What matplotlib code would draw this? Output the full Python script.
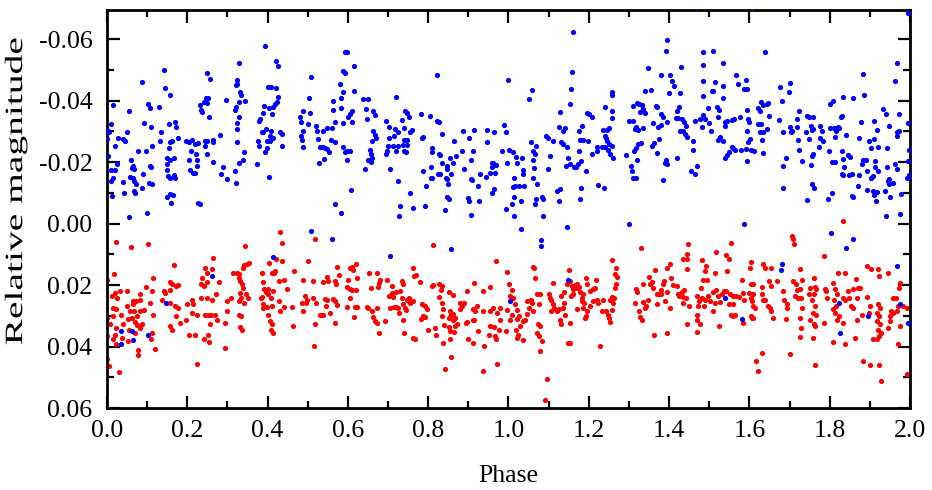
import numpy as np
import matplotlib
matplotlib.use("Agg")
import matplotlib.pyplot as plt
from matplotlib.ticker import MultipleLocator, FormatStrFormatter
from matplotlib.patheffects import AbstractPathEffect
from matplotlib.transforms import Affine2D

# (phase, relative magnitude)
blue = [
    # 0.0 - 0.23
    (0.143,-0.050),(0.086,-0.046),(0.145,-0.044),(0.158,-0.042),(0.014,-0.0387),(0.103,-0.039),(0.106,-0.0377),
    (0.129,-0.0378),(0.055,-0.0366),(0.009,-0.0324),(0.0,-0.0304),(0.005,-0.0297),(0.001,-0.0276),(0.091,-0.0326),
    (0.110,-0.0313),(0.135,-0.0299),(0.049,-0.0299),(0.028,-0.0278),(0.039,-0.0276),(0.045,-0.027),(0.019,-0.0253),
    (0.154,-0.0324),(0.170,-0.033),(0.173,-0.0315),(0.176,-0.028),(0.133,-0.027),(0.158,-0.0267),(0.163,-0.027),
    (0.113,-0.0253),(0.154,-0.0246),(0.076,-0.0237),(0.097,-0.0237),(0.002,-0.022),(0.024,-0.0193),(0.019,-0.0175),
    (0.011,-0.0174),(0.014,-0.015),(0.009,-0.0139),(0.060,-0.0208),(0.066,-0.0188),(0.063,-0.018),(0.068,-0.0177),
    (0.107,-0.0188),(0.109,-0.0183),(0.090,-0.0163),(0.057,-0.0152),(0.064,-0.0148),(0.067,-0.0139),(0.039,-0.0134),
    (0.071,-0.0128),(0.067,-0.0107),(0.070,-0.0101),(0.088,-0.0115),(0.104,-0.0132),(0.111,-0.0128),(0.149,-0.0213),
    (0.158,-0.0207),(0.166,-0.0215),(0.149,-0.0193),(0.149,-0.0175),(0.153,-0.0155),(0.157,-0.015),(0.167,-0.0159),
    (0.169,-0.0148),(0.150,-0.0087),(0.158,-0.0096),(0.165,-0.0093),(0.159,-0.0068),(0.043,-0.0098),(0.013,-0.0089),
    (0.100,-0.0036),(0.056,-0.002),(0.226,-0.0066),(0.197,-0.027),(0.205,-0.0267),(0.211,-0.0272),(0.219,-0.0259),
    (0.227,-0.0261),(0.210,-0.0237),(0.222,-0.0226),(0.205,-0.0207),(0.223,-0.0208),(0.225,-0.0188),(0.207,-0.0175),
    (0.213,-0.0166),(0.220,-0.0164),
    (0.147,0.0258),(0.036,0.0348),(0.063,0.035),(0.034,0.0393),(0.066,0.0379),(0.103,0.0364),
    # 0.23 - 0.47
    (0.394,-0.0579),(0.329,-0.0522),(0.248,-0.049),(0.256,-0.0471),(0.421,-0.0528),(0.427,-0.0514),(0.323,-0.0467),
    (0.325,-0.0454),(0.321,-0.0451),(0.402,-0.0446),(0.408,-0.0443),(0.421,-0.044),(0.331,-0.0427),(0.335,-0.042),
    (0.330,-0.0395),(0.344,-0.04),(0.427,-0.0413),(0.424,-0.0395),(0.418,-0.0389),(0.413,-0.0378),(0.404,-0.0376),
    (0.392,-0.0384),(0.389,-0.0359),(0.381,-0.034),(0.378,-0.0335),(0.232,-0.0387),(0.233,-0.037),(0.242,-0.0395),
    (0.250,-0.0392),(0.247,-0.0408),(0.252,-0.0409),(0.255,-0.0346),(0.236,-0.0362),(0.296,-0.0402),(0.318,-0.037),
    (0.321,-0.0378),(0.330,-0.0346),(0.323,-0.0326),(0.325,-0.0308),(0.410,-0.0357),(0.396,-0.0308),(0.389,-0.0299),
    (0.385,-0.0297),(0.408,-0.03),(0.406,-0.0286),(0.431,-0.0297),(0.435,-0.0291),(0.436,-0.0251),(0.413,-0.028),
    (0.406,-0.027),(0.398,-0.027),(0.399,-0.0246),(0.394,-0.0234),(0.377,-0.027),(0.379,-0.0254),(0.243,-0.027),
    (0.248,-0.027),(0.245,-0.0253),(0.248,-0.0226),(0.263,-0.0267),(0.265,-0.0272),(0.281,-0.0289),(0.263,-0.0202),
    (0.325,-0.0267),(0.342,-0.0234),(0.338,-0.0207),(0.328,-0.0196),(0.288,-0.0183),(0.285,-0.0163),(0.298,-0.0145),
    (0.318,-0.017),(0.321,-0.0132),(0.374,-0.0193),(0.404,-0.0152),(0.232,-0.0065),
    (0.413,0.0109),(0.261,0.0171),
    # 0.48 - 0.73
    (0.593,-0.0557),(0.599,-0.0557),(0.614,-0.0513),(0.589,-0.0498),(0.594,-0.049),(0.508,-0.0478),(0.580,-0.0454),
    (0.587,-0.0427),(0.584,-0.0409),(0.615,-0.0433),(0.504,-0.0409),(0.489,-0.0365),(0.481,-0.0348),(0.482,-0.0329),
    (0.506,-0.0359),(0.564,-0.0398),(0.564,-0.037),(0.582,-0.0376),(0.638,-0.0404),(0.651,-0.0404),(0.645,-0.0373),
    (0.647,-0.034),(0.663,-0.0365),(0.667,-0.0352),(0.609,-0.0367),(0.605,-0.0357),(0.601,-0.0346),(0.589,-0.0327),
    (0.611,-0.0329),(0.501,-0.0324),(0.521,-0.0318),(0.537,-0.0302),(0.547,-0.0311),(0.560,-0.0311),(0.568,-0.0329),
    (0.524,-0.03),(0.526,-0.0275),(0.531,-0.0248),(0.487,-0.03),(0.482,-0.0286),(0.485,-0.0272),(0.489,-0.0248),
    (0.537,-0.0248),(0.543,-0.0246),(0.547,-0.0242),(0.557,-0.0272),(0.568,-0.0267),(0.554,-0.0232),(0.541,-0.021),
    (0.529,-0.0197),(0.589,-0.025),(0.597,-0.0237),(0.604,-0.0237),(0.594,-0.0234),(0.599,-0.0207),(0.663,-0.0302),
    (0.667,-0.0289),(0.669,-0.0278),(0.659,-0.027),(0.655,-0.024),(0.657,-0.0228),(0.660,-0.0212),(0.651,-0.0208),
    (0.657,-0.0199),(0.643,-0.0177),(0.696,-0.0333),(0.703,-0.0313),(0.717,-0.0308),(0.716,-0.0286),(0.726,-0.0297),
    (0.726,-0.0253),(0.721,-0.0237),(0.713,-0.0253),(0.701,-0.0253),(0.698,-0.0237),(0.695,-0.0226),(0.703,-0.028),
    (0.721,-0.0413),(0.706,-0.0177),(0.726,-0.0139),(0.728,-0.0025),(0.607,-0.0109),(0.568,-0.0063),(0.584,-0.0033),
    (0.508,0.0024),(0.560,0.0051),(0.705,0.0105),
    # 0.73 - 0.98
    (0.823,-0.0485),(0.742,-0.0365),(0.748,-0.0359),(0.751,-0.0346),(0.734,-0.0337),(0.740,-0.0311),(0.759,-0.0304),
    (0.755,-0.0297),(0.746,-0.0272),(0.740,-0.0272),(0.781,-0.0357),(0.805,-0.0351),(0.786,-0.0283),(0.784,-0.0278),
    (0.823,-0.0335),(0.828,-0.033),(0.834,-0.0292),(0.886,-0.0302),(0.902,-0.028),(0.914,-0.0304),(0.947,-0.0304),
    (0.965,-0.0299),(0.738,-0.0257),(0.746,-0.0255),(0.740,-0.0237),(0.745,-0.0232),(0.809,-0.0246),(0.809,-0.0232),
    (0.828,-0.0228),(0.829,-0.0224),(0.834,-0.0196),(0.864,-0.027),(0.883,-0.0237),(0.911,-0.0235),(0.906,-0.0207),
    (0.946,-0.0264),(0.958,-0.0196),(0.962,-0.0196),(0.969,-0.0191),(0.959,-0.0183),(0.966,-0.0166),(0.954,-0.0166),
    (0.854,-0.0213),(0.863,-0.0196),(0.868,-0.0221),(0.846,-0.0188),(0.848,-0.0177),(0.856,-0.0163),(0.844,-0.015),
    (0.846,-0.0145),(0.829,-0.0161),(0.825,-0.0161),(0.809,-0.015),(0.806,-0.0148),(0.788,-0.0172),(0.806,-0.0183),
    (0.795,-0.0123),(0.755,-0.01),(0.730,-0.0058),(0.761,-0.0052),(0.792,-0.0058),(0.889,-0.0177),(0.929,-0.0161),
    (0.944,-0.0152),(0.906,-0.0145),(0.908,-0.0141),(0.925,-0.0123),(0.958,-0.0098),(0.964,-0.0112),(0.850,-0.0128),
    (0.853,-0.008),(0.848,-0.0085),(0.843,-0.0043),(0.900,-0.0083),(0.902,-0.0072),(0.927,-0.0072),(0.906,-0.0027),
    (0.856,0.0082),
    # 0.98 - 1.23
    (1.160,-0.0623),(0.999,-0.0467),(1.058,-0.0435),(1.052,-0.0405),(1.157,-0.0492),(1.155,-0.0438),(1.153,-0.0389),
    (0.989,-0.0322),(0.995,-0.0297),(1.002,-0.0239),(0.983,-0.0237),(0.997,-0.0196),(1.012,-0.0232),(1.019,-0.0217),
    (1.022,-0.0198),(1.033,-0.0213),(1.035,-0.0174),(1.035,-0.0161),(1.014,-0.015),(1.016,-0.0123),(1.010,-0.012),
    (1.025,-0.0123),(1.039,-0.0123),(1.055,-0.0267),(1.060,-0.0237),(1.066,-0.0228),(1.068,-0.0253),(1.062,-0.0207),
    (1.064,-0.0181),(1.060,-0.015),(1.072,-0.0128),(1.068,-0.0079),(1.066,-0.0063),(1.083,-0.0085),(1.087,-0.0079),
    (1.087,-0.0026),(1.030,-0.0072),(1.014,-0.0087),(1.008,-0.0063),(0.994,-0.0048),(1.014,-0.0024),(1.032,0.0018),
    (1.080,0.0054),(1.080,0.0073),(1.093,-0.0286),(1.099,-0.028),(1.110,-0.027),(1.103,-0.0221),(1.099,-0.0177),
    (1.128,-0.0362),(1.127,-0.0313),(1.135,-0.03),(1.141,-0.0311),(1.132,-0.0267),(1.136,-0.0259),(1.145,-0.0248),
    (1.149,-0.0215),(1.143,-0.0188),(1.153,-0.0193),(1.163,-0.0185),(1.168,-0.0185),(1.174,-0.0193),(1.176,-0.0237),
    (1.180,-0.0204),(1.178,-0.0272),(1.176,-0.0302),(1.182,-0.0318),(1.186,-0.0272),(1.193,-0.0172),(1.199,-0.027),
    (1.201,-0.0357),(1.196,-0.0359),(1.207,-0.0346),(1.207,-0.0226),(1.220,-0.0237),(1.221,-0.025),(1.224,-0.0126),
    (1.122,-0.0107),(1.128,-0.0112),(1.126,-0.0072),(1.145,0.0011),(1.180,-0.0117),(1.178,-0.0079),
    (1.149,0.0185),(1.004,0.0252),
    # 1.23 - 1.47
    (1.394,-0.0598),(1.392,-0.056),(1.467,-0.0702),(1.348,-0.0506),(1.379,-0.0482),(1.402,-0.0482),(1.406,-0.0463),
    (1.412,-0.0449),(1.400,-0.0424),(1.429,-0.0508),(1.427,-0.0424),(1.258,-0.0427),(1.259,-0.042),(1.240,-0.0378),
    (1.259,-0.0367),(1.257,-0.0343),(1.251,-0.031),(1.245,-0.0304),(1.235,-0.0304),(1.240,-0.0286),(1.244,-0.028),
    (1.246,-0.027),(1.251,-0.0259),(1.257,-0.0253),(1.240,-0.025),(1.249,-0.0239),(1.254,-0.0226),(1.261,-0.0213),
    (1.232,-0.0248),(1.238,-0.0115),(1.301,0.0),(1.340,-0.0433),(1.354,-0.0435),(1.319,-0.0394),(1.326,-0.0389),
    (1.332,-0.0387),(1.336,-0.0373),(1.340,-0.0359),(1.328,-0.0364),(1.309,-0.0384),(1.301,-0.0333),(1.311,-0.0333),
    (1.318,-0.0315),(1.323,-0.0304),(1.315,-0.0308),(1.336,-0.0311),(1.318,-0.0246),(1.323,-0.0259),(1.329,-0.0261),
    (1.313,-0.0237),(1.293,-0.0224),(1.304,-0.0188),(1.307,-0.017),(1.311,-0.0148),(1.318,-0.0148),(1.321,-0.0207),
    (1.367,-0.0384),(1.371,-0.038),(1.381,-0.0357),(1.384,-0.0348),(1.394,-0.033),(1.361,-0.0326),(1.373,-0.0315),
    (1.381,-0.0322),(1.376,-0.0274),(1.362,-0.0263),(1.357,-0.0252),(1.369,-0.023),(1.392,-0.0208),(1.394,-0.0193),
    (1.390,-0.0197),(1.384,-0.0141),(1.419,-0.0365),(1.425,-0.038),(1.417,-0.0345),(1.423,-0.0343),(1.431,-0.034),
    (1.427,-0.0302),(1.435,-0.0302),(1.440,-0.0293),(1.445,-0.0282),(1.437,-0.033),(1.442,-0.0316),(1.460,-0.027),
    (1.459,-0.024),(1.469,-0.0188),(1.464,-0.0161),(1.454,-0.0172),(1.419,-0.0215),(1.464,-0.0335),
    # 1.47 - 1.73
    (1.606,-0.0702),(1.509,-0.0563),(1.485,-0.0558),(1.639,-0.0557),(1.484,-0.0516),(1.535,-0.0522),(1.484,-0.0465),
    (1.514,-0.046),(1.510,-0.0433),(1.506,-0.043),(1.535,-0.0449),(1.567,-0.0484),(1.572,-0.0455),(1.591,-0.0468),
    (1.587,-0.0438),(1.593,-0.0438),(1.484,-0.0416),(1.533,-0.0409),(1.498,-0.0376),(1.520,-0.038),(1.525,-0.0369),
    (1.484,-0.0354),(1.477,-0.034),(1.489,-0.034),(1.500,-0.0326),(1.523,-0.0346),(1.539,-0.033),(1.543,-0.0335),
    (1.556,-0.0337),(1.562,-0.034),(1.577,-0.0348),(1.593,-0.037),(1.481,-0.0315),(1.504,-0.03),(1.527,-0.0283),
    (1.523,-0.0272),(1.535,-0.027),(1.539,-0.0318),(1.597,-0.034),(1.600,-0.0329),(1.593,-0.0302),(1.602,-0.0275),
    (1.597,-0.0264),(1.592,-0.0242),(1.603,-0.0239),(1.611,-0.0237),(1.595,-0.0204),(1.578,-0.0239),(1.556,-0.025),
    (1.560,-0.0246),(1.550,-0.0232),(1.543,-0.0224),(1.539,-0.0215),(1.564,-0.0239),(1.628,-0.0395),(1.633,-0.0387),
    (1.643,-0.0389),(1.647,-0.0392),(1.622,-0.0376),(1.626,-0.0367),(1.650,-0.0349),(1.622,-0.0324),(1.628,-0.0324),
    (1.633,-0.0297),(1.626,-0.0297),(1.631,-0.0272),(1.645,-0.0308),(1.635,-0.0231),(1.676,-0.0443),(1.701,-0.0456),
    (1.699,-0.0427),(1.680,-0.04),(1.674,-0.0337),(1.684,-0.0297),(1.701,-0.0315),(1.705,-0.0302),(1.703,-0.0297),
    (1.719,-0.034),(1.724,-0.0367),(1.718,-0.0313),(1.722,-0.0272),(1.724,-0.0239),(1.684,-0.0188),(1.691,-0.0213),
    (1.684,-0.0115),(1.587,0.0002),(1.680,0.013),(1.678,0.0152),(1.539,0.0241),(1.581,0.0309),
    # 1.73 - 2.0
    (1.996,-0.0685),(1.967,-0.0522),(1.882,-0.0487),(1.963,-0.0465),(1.885,-0.042),(1.834,-0.0411),(1.859,-0.0409),
    (1.807,-0.04),(1.801,-0.0389),(1.933,-0.0373),(1.940,-0.0357),(1.973,-0.0357),(1.996,-0.0326),(1.910,-0.0334),
    (1.877,-0.0329),(1.743,-0.0351),(1.749,-0.0346),(1.759,-0.0346),(1.753,-0.0318),(1.758,-0.0308),(1.755,-0.0304),
    (1.749,-0.0275),(1.741,-0.0297),(1.777,-0.0318),(1.782,-0.03),(1.776,-0.028),(1.784,-0.027),(1.801,-0.0311),
    (1.811,-0.0311),(1.821,-0.0313),(1.816,-0.0302),(1.813,-0.0283),(1.824,-0.0311),(1.830,-0.0351),(1.827,-0.0346),
    (1.841,-0.0289),(1.917,-0.0304),(1.910,-0.0275),(1.897,-0.027),(1.874,-0.028),(1.948,-0.0318),(1.968,-0.0297),
    (1.973,-0.0302),(1.967,-0.0286),(1.943,-0.0246),(1.921,-0.0248),(1.904,-0.0246),(1.998,-0.0239),(1.730,-0.0204),
    (1.759,-0.0226),(1.755,-0.0221),(1.753,-0.0192),(1.774,-0.025),(1.799,-0.0237),(1.805,-0.0199),(1.813,-0.0199),
    (1.830,-0.0237),(1.834,-0.021),(1.836,-0.0185),(1.846,-0.0224),(1.851,-0.0217),(1.830,-0.0161),(1.834,-0.0159),
    (1.849,-0.0159),(1.855,-0.0161),(1.874,-0.0159),(1.880,-0.0193),(1.884,-0.0207),(1.890,-0.0207),(1.892,-0.0172),
    (1.904,-0.015),(1.909,-0.0155),(1.913,-0.0185),(1.914,-0.0204),(1.921,-0.0172),(1.943,-0.0183),(1.948,-0.0145),
    (1.946,-0.0139),(1.948,-0.013),(1.957,-0.0133),(1.967,-0.0177),(1.963,-0.0193),(1.996,-0.0204),(1.998,-0.0159),
    (1.992,-0.015),(1.755,-0.0128),(1.761,-0.0117),(1.743,-0.0076),(1.805,-0.0101),(1.797,-0.0079),(1.871,-0.0123),
    (1.892,-0.0109),(1.907,-0.0107),(1.913,-0.0101),(1.917,-0.0104),(1.910,-0.0093),(1.915,-0.0074),(1.938,-0.0107),
    (1.950,-0.0087),(1.977,-0.0096),(1.975,-0.003),(1.940,-0.0025),(1.855,-0.009),(1.857,-0.0085),(1.802,0.0029),
    (1.859,0.0051),(1.841,0.0078),(1.968,0.0138),(1.975,0.0263),(1.996,0.0323),(1.896,0.0301),(1.826,0.0355),
    (1.824,0.0258),
]

red = [
    # 0.0 - 0.23
    (0.022,0.006),(0.059,0.0076),(0.101,0.0067),(0.018,0.0163),(0.0,0.0183),(0.114,0.0176),(0.168,0.0136),
    (0.096,0.0207),(0.082,0.023),(0.111,0.022),(0.156,0.0189),(0.162,0.0198),(0.171,0.0203),(0.177,0.0201),
    (0.156,0.0217),(0.012,0.0235),(0.020,0.0226),(0.032,0.022),(0.049,0.022),(0.026,0.0241),(0.066,0.0252),
    (0.072,0.0252),(0.081,0.025),(0.066,0.0261),(0.107,0.0259),(0.137,0.0248),(0.145,0.0226),(0.142,0.022),
    (0.157,0.0258),(0.169,0.0269),(0.176,0.0276),(0.016,0.0274),(0.022,0.0279),(0.049,0.0268),(0.057,0.0283),
    (0.067,0.0285),(0.082,0.0283),(0.092,0.028),(0.115,0.0296),(0.034,0.0296),(0.0,0.0307),(0.016,0.0301),
    (0.007,0.0328),(0.022,0.0339),(0.041,0.0328),(0.053,0.0309),(0.063,0.0307),(0.074,0.0301),(0.070,0.032),
    (0.075,0.033),(0.082,0.0339),(0.086,0.0328),(0.056,0.0345),(0.070,0.0355),(0.0,0.0366),(0.020,0.0361),
    (0.016,0.0377),(0.022,0.0393),(0.037,0.0372),(0.052,0.0383),(0.076,0.041),(0.078,0.0426),(0.120,0.0408),
    (0.111,0.0355),(0.109,0.0377),(0.0,0.0442),(0.006,0.0464),(0.029,0.0484),(0.158,0.0334),(0.161,0.0345),
    (0.182,0.0323),(0.198,0.0312),(0.205,0.0361),(0.219,0.0363),(0.223,0.0457),(0.200,0.0263),(0.211,0.025),
    (0.215,0.0263),(0.211,0.029),(0.223,0.0296),(0.172,0.0301),
    # 0.23 - 0.47
    (0.432,0.0027),(0.437,0.0062),(0.343,0.0073),(0.265,0.0111),(0.261,0.0149),(0.244,0.0143),(0.248,0.016),
    (0.422,0.0116),(0.436,0.0122),(0.404,0.0127),(0.418,0.0154),(0.416,0.016),(0.410,0.016),(0.441,0.0182),
    (0.429,0.0187),(0.341,0.0135),(0.348,0.013),(0.353,0.0129),(0.338,0.0143),(0.315,0.016),(0.325,0.016),
    (0.330,0.0165),(0.328,0.0176),(0.331,0.0187),(0.336,0.0198),(0.338,0.0211),(0.236,0.0176),(0.233,0.0198),
    (0.242,0.0203),(0.250,0.0189),(0.280,0.019),(0.271,0.023),(0.261,0.0247),(0.248,0.0241),(0.233,0.0241),
    (0.298,0.0252),(0.310,0.0241),(0.385,0.016),(0.389,0.0189),(0.391,0.0214),(0.396,0.0222),(0.402,0.0214),
    (0.385,0.0239),(0.383,0.0243),(0.400,0.023),(0.408,0.0241),(0.414,0.022),(0.410,0.0268),(0.331,0.0225),
    (0.335,0.0241),(0.346,0.0228),(0.352,0.0241),(0.330,0.0252),(0.341,0.0258),(0.388,0.0263),(0.389,0.0276),
    (0.398,0.0272),(0.402,0.0296),(0.406,0.0317),(0.410,0.0328),(0.408,0.0345),(0.414,0.0357),(0.429,0.0252),
    (0.431,0.0285),(0.441,0.0272),(0.449,0.0214),(0.460,0.027),(0.467,0.0154),(0.464,0.0334),(0.244,0.0296),
    (0.252,0.0296),(0.258,0.0296),(0.269,0.0296),(0.273,0.0312),(0.256,0.0328),(0.242,0.0375),(0.255,0.0385),
    (0.252,0.0361),(0.294,0.0323),(0.295,0.0404),(0.330,0.0296),(0.335,0.0301),(0.331,0.0337),(0.337,0.0345),
    (0.298,0.0283),
    # 0.48 - 0.73
    (0.518,0.0049),(0.501,0.0122),(0.489,0.0182),(0.514,0.0187),(0.539,0.019),(0.547,0.0174),(0.551,0.0187),
    (0.574,0.0141),(0.579,0.0167),(0.568,0.0187),(0.570,0.0198),(0.604,0.0143),(0.609,0.0141),(0.620,0.013),
    (0.613,0.0152),(0.601,0.0183),(0.597,0.0207),(0.604,0.0212),(0.609,0.0217),(0.620,0.0217),(0.623,0.0176),
    (0.653,0.016),(0.672,0.016),(0.680,0.0182),(0.676,0.0207),(0.678,0.0194),(0.658,0.0211),(0.698,0.0185),
    (0.709,0.0203),(0.711,0.0233),(0.493,0.0236),(0.499,0.0247),(0.485,0.0258),(0.489,0.0283),(0.496,0.0258),
    (0.514,0.0241),(0.521,0.0258),(0.543,0.0246),(0.549,0.0248),(0.564,0.0246),(0.569,0.0253),(0.574,0.0264),
    (0.545,0.0268),(0.555,0.029),(0.535,0.0296),(0.531,0.0298),(0.539,0.0298),(0.568,0.0322),(0.597,0.027),
    (0.605,0.0241),(0.618,0.027),(0.623,0.027),(0.614,0.0304),(0.518,0.0326),(0.516,0.0399),(0.647,0.0272),
    (0.651,0.0276),(0.659,0.0283),(0.663,0.0304),(0.667,0.0317),(0.672,0.0323),(0.677,0.0355),(0.673,0.0274),
    (0.692,0.0317),(0.705,0.0276),(0.715,0.027),(0.721,0.027),(0.726,0.0274),(0.728,0.029),(0.703,0.0236),
    (0.709,0.0225),(0.721,0.0222),(0.713,0.024),
    # 0.73 - 0.98
    (0.811,0.007),(0.969,0.0122),(0.761,0.0143),(0.765,0.0171),(0.770,0.0167),(0.780,0.0189),(0.734,0.0187),
    (0.738,0.0198),(0.730,0.022),(0.809,0.0203),(0.813,0.0201),(0.828,0.0198),(0.834,0.0203),(0.831,0.0217),
    (0.828,0.0239),(0.853,0.0222),(0.863,0.0233),(0.896,0.022),(0.914,0.0192),(0.937,0.022),(0.954,0.0207),
    (0.734,0.0241),(0.738,0.0261),(0.746,0.025),(0.753,0.0243),(0.755,0.0258),(0.761,0.0252),(0.742,0.0276),
    (0.736,0.0312),(0.745,0.028),(0.784,0.0263),(0.792,0.0268),(0.796,0.0279),(0.786,0.0301),(0.792,0.0304),
    (0.781,0.0309),(0.834,0.0258),(0.836,0.0279),(0.834,0.0301),(0.854,0.0285),(0.858,0.0296),(0.863,0.0293),
    (0.853,0.0307),(0.861,0.0312),(0.867,0.0307),(0.879,0.0258),(0.883,0.0268),(0.888,0.0258),(0.878,0.0279),
    (0.871,0.0328),(0.867,0.0334),(0.853,0.0337),(0.854,0.035),(0.864,0.0352),(0.839,0.033),(0.912,0.0279),
    (0.917,0.0283),(0.922,0.0268),(0.936,0.0283),(0.954,0.0283),(0.962,0.0274),(0.979,0.0274),(0.972,0.029),
    (0.911,0.0312),(0.914,0.0315),(0.925,0.035),(0.896,0.0319),(0.894,0.0323),(0.954,0.0334),(0.964,0.0337),
    (0.979,0.0312),(0.977,0.0345),(0.966,0.0366),(0.970,0.0377),(0.952,0.0361),(0.800,0.0345),(0.817,0.0339),
    (0.819,0.0361),(0.761,0.0372),(0.767,0.0377),(0.838,0.0388),(0.854,0.0377),(0.858,0.0435),(0.842,0.0472),
    (0.900,0.0377),(0.911,0.0388),(0.939,0.0399),(0.936,0.048),(0.972,0.0458),(0.740,0.0355),
    # 0.98 - 1.23
    (0.997,0.0157),(1.002,0.0196),(1.008,0.0217),(1.004,0.0236),(1.010,0.0241),(1.016,0.0263),(1.020,0.028),
    (1.022,0.0309),(1.027,0.0301),(1.035,0.0317),(1.041,0.0312),(1.029,0.0334),(1.019,0.0345),(1.008,0.0296),
    (1.004,0.0312),(0.995,0.035),(0.997,0.028),(1.035,0.038),(1.024,0.0361),(1.020,0.0372),(1.045,0.0252),
    (1.055,0.0247),(1.058,0.0258),(1.052,0.0274),(1.060,0.0283),(1.047,0.0293),(1.060,0.0141),(1.063,0.0143),
    (1.067,0.0178),(1.072,0.023),(1.078,0.0228),(1.077,0.0263),(1.074,0.0326),(1.078,0.0334),(1.072,0.0355),
    (1.077,0.0366),(1.083,0.0383),(1.078,0.0415),(1.095,0.0504),(1.091,0.0573),(1.102,0.023),(1.103,0.0241),
    (1.107,0.0247),(1.110,0.0263),(1.113,0.0276),(1.107,0.0283),(1.110,0.0192),(1.120,0.0285),(1.127,0.0279),
    (1.135,0.0274),(1.130,0.0236),(1.137,0.0222),(1.145,0.0198),(1.151,0.0151),(1.153,0.0187),(1.157,0.0203),
    (1.161,0.0214),(1.166,0.02),(1.170,0.0196),(1.171,0.0211),(1.176,0.0207),(1.178,0.0222),(1.185,0.023),
    (1.182,0.0252),(1.188,0.0257),(1.186,0.0274),(1.193,0.0301),(1.196,0.0285),(1.203,0.0268),(1.211,0.0252),
    (1.210,0.0214),(1.215,0.0209),(1.218,0.0182),(1.193,0.0176),(1.203,0.022),(1.195,0.0198),(1.153,0.0323),
    (1.153,0.0388),(1.149,0.0388),(1.161,0.023),(1.182,0.0241),(1.190,0.0307),(1.137,0.0258),(1.155,0.0236),
    (1.128,0.0312),(1.132,0.0328),(1.141,0.0296),(1.170,0.0279),(1.228,0.0399),(1.220,0.0247),(1.224,0.0258),
    # 1.23 - 1.47
    (1.257,0.012),(1.268,0.0143),(1.265,0.0163),(1.271,0.0174),(1.268,0.0198),(1.265,0.0211),(1.259,0.0239),
    (1.253,0.0247),(1.263,0.0241),(1.261,0.0258),(1.257,0.028),(1.249,0.0296),(1.251,0.0307),(1.253,0.032),
    (1.243,0.0283),(1.235,0.025),(1.232,0.0285),(1.329,0.0078),(1.318,0.0214),(1.321,0.0222),(1.315,0.0258),
    (1.334,0.0196),(1.334,0.0254),(1.326,0.0285),(1.327,0.0304),(1.332,0.0312),(1.342,0.0268),(1.340,0.0274),
    (1.348,0.025),(1.351,0.0174),(1.352,0.0196),(1.357,0.0189),(1.365,0.0152),(1.361,0.0209),(1.369,0.023),
    (1.379,0.0217),(1.376,0.0228),(1.381,0.023),(1.386,0.0196),(1.387,0.0187),(1.394,0.0222),(1.390,0.0252),
    (1.394,0.0143),(1.402,0.013),(1.404,0.0178),(1.409,0.02),(1.419,0.0203),(1.423,0.023),(1.431,0.0222),
    (1.437,0.0217),(1.434,0.0239),(1.435,0.0257),(1.442,0.0241),(1.449,0.0268),(1.445,0.0326),(1.435,0.0116),
    (1.445,0.0116),(1.445,0.0148),(1.444,0.0098),(1.447,0.0067),(1.425,0.0236),(1.402,0.0274),(1.371,0.0261),
    (1.362,0.0363),(1.394,0.0355),(1.470,0.0236),(1.475,0.0252),(1.473,0.0268),(1.469,0.0296),(1.470,0.0315),
    (1.477,0.0328),(1.469,0.0352),
    # 1.47 - 1.73
    (1.553,0.0062),(1.517,0.0091),(1.542,0.0102),(1.548,0.0116),(1.481,0.012),(1.492,0.0138),(1.489,0.0154),
    (1.514,0.016),(1.543,0.0154),(1.485,0.0182),(1.495,0.0185),(1.479,0.0211),(1.481,0.0241),(1.489,0.0247),
    (1.498,0.0236),(1.509,0.0222),(1.518,0.0217),(1.523,0.0236),(1.531,0.0228),(1.537,0.022),(1.542,0.022),
    (1.552,0.023),(1.558,0.0236),(1.567,0.0236),(1.575,0.0239),(1.558,0.0261),(1.550,0.0263),(1.528,0.0254),
    (1.514,0.0258),(1.502,0.0252),(1.487,0.0268),(1.510,0.0283),(1.525,0.0334),(1.553,0.0296),(1.560,0.0301),
    (1.564,0.0296),(1.585,0.0323),(1.587,0.0247),(1.583,0.0225),(1.603,0.0126),(1.601,0.0143),(1.581,0.0185),
    (1.603,0.0198),(1.610,0.0196),(1.600,0.0225),(1.610,0.0228),(1.603,0.0243),(1.606,0.0252),(1.608,0.0268),
    (1.614,0.0274),(1.603,0.0301),(1.606,0.0307),(1.610,0.0307),(1.631,0.0206),(1.633,0.013),(1.639,0.0143),
    (1.655,0.0143),(1.631,0.023),(1.635,0.025),(1.639,0.025),(1.647,0.0268),(1.651,0.0274),(1.655,0.0283),
    (1.658,0.0307),(1.650,0.0187),(1.655,0.0203),(1.668,0.0187),(1.684,0.022),(1.686,0.0247),(1.693,0.0261),
    (1.694,0.0274),(1.691,0.0309),(1.705,0.004),(1.708,0.0051),(1.711,0.0067),(1.709,0.0187),(1.716,0.0198),
    (1.718,0.0217),(1.714,0.0236),(1.722,0.0241),(1.701,0.0424),(1.631,0.0421),(1.616,0.0448),(1.622,0.0478),
    # 1.73 - 2.0
    (1.834,-0.0009),(1.786,0.0105),(1.726,0.0149),(1.730,0.0182),(1.726,0.0214),(1.728,0.0241),(1.730,0.0276),
    (1.726,0.0307),(1.728,0.0339),(1.726,0.037),(1.759,0.0372),(1.751,0.0209),(1.761,0.0176),(1.763,0.0207),
    (1.767,0.0214),(1.761,0.023),(1.755,0.0247),(1.763,0.0268),(1.758,0.029),(1.767,0.0296),(1.751,0.0312),
    (1.761,0.0326),(1.763,0.0334),(1.749,0.023),(1.788,0.0214),(1.792,0.022),(1.794,0.0241),(1.786,0.0323),
    (1.809,0.0192),(1.813,0.0214),(1.817,0.023),(1.811,0.0247),(1.816,0.0268),(1.809,0.0279),(1.813,0.029),
    (1.824,0.0301),(1.819,0.0312),(1.834,0.0323),(1.832,0.0241),(1.838,0.0247),(1.849,0.0241),(1.846,0.022),
    (1.857,0.0214),(1.852,0.0268),(1.859,0.0274),(1.867,0.0241),(1.871,0.0209),(1.865,0.0181),(1.875,0.0209),
    (1.821,0.016),(1.838,0.016),(1.867,0.0315),(1.863,0.0372),(1.809,0.0385),(1.838,0.0391),(1.763,0.0459),
    (1.892,0.0138),(1.902,0.0149),(1.921,0.0149),(1.946,0.016),(1.924,0.0171),(1.900,0.0268),(1.899,0.029),
    (1.921,0.0263),(1.925,0.0274),(1.917,0.029),(1.924,0.0301),(1.919,0.0317),(1.925,0.0328),(1.921,0.0345),
    (1.927,0.0355),(1.924,0.0366),(1.917,0.0377),(1.907,0.0377),(1.950,0.0301),(1.952,0.0285),(1.957,0.029),
    (1.967,0.0285),(1.971,0.0268),(1.958,0.0241),(1.965,0.0241),(1.973,0.0211),(1.975,0.0192),(1.983,0.0268),
    (1.993,0.0276),(1.975,0.0334),(1.971,0.0391),(1.884,0.0448),(1.900,0.0459),(1.924,0.0461),(1.929,0.0511),
    (1.992,0.0489),(1.946,0.0339),(1.950,0.0317),(1.880,0.0298),(1.892,0.0239),
]

blue_phase, blue_mag = np.array(blue).T
red_phase, red_mag = np.array(red).T


# the y label in the original is drawn stretched along its length
class Stretch(AbstractPathEffect):
    def __init__(self, sx):
        super().__init__()
        self.sx = sx

    def draw_path(self, renderer, gc, tpath, affine, rgbFace=None):
        ext = tpath.get_extents()
        c = (ext.x0 + ext.x1) / 2
        t = Affine2D().translate(-c, 0).scale(self.sx, 1).translate(c, 0) + affine
        renderer.draw_path(gc, tpath, t, rgbFace)


plt.rcParams['font.family'] = ['Liberation Serif', 'DejaVu Serif']
plt.rcParams['font.size'] = 18.5

fig = plt.figure(figsize=(9.32, 4.90), dpi=100)
ax = fig.add_axes([0.1148, 0.1673, 0.8616, 0.8123])

ax.scatter(red_phase, red_mag, s=14, c='#ff0000', linewidths=0, zorder=2)
ax.scatter(blue_phase, blue_mag, s=14, c='#0000ff', linewidths=0, zorder=3)

ax.set_xlim(0, 2.0)
ax.set_ylim(0.06, -0.0695)

ax.xaxis.set_major_locator(MultipleLocator(0.2))
ax.xaxis.set_minor_locator(MultipleLocator(0.1))
ax.yaxis.set_major_locator(MultipleLocator(0.02))
ax.yaxis.set_minor_locator(MultipleLocator(0.01))
ax.xaxis.set_major_formatter(FormatStrFormatter('%.1f'))
ax.yaxis.set_major_formatter(FormatStrFormatter('%.2f'))

ax.tick_params(which='both', direction='in', top=True, right=True, width=1.6)
ax.tick_params(which='major', length=9)
ax.tick_params(which='minor', length=5)
ax.tick_params(axis='x', pad=8.5)
ax.tick_params(axis='y', pad=10.5)
for sp in ax.spines.values():
    sp.set_linewidth(2)

ax.set_xlabel('Phase', labelpad=17)
ylab = ax.set_ylabel('Relative magnitude', fontsize=18)
ylab.set_path_effects([Stretch(1.58)])
ax.yaxis.set_label_coords(-0.0995, 0.545)

fig.savefig('out.png', dpi=100)
